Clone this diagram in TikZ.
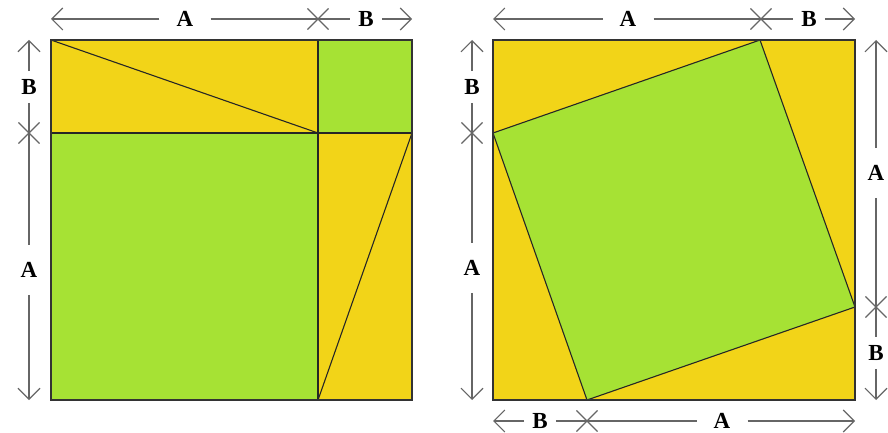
\documentclass[tikz,border=0pt]{standalone}
\usepackage{fontspec}
\setmainfont{Liberation Serif}
\usetikzlibrary{arrows.meta,shapes.misc}
\definecolor{sunyellow}{RGB}{242,212,24}
\definecolor{leafgreen}{RGB}{166,226,52}
\tikzset{
  dim/.style={draw=black!60, line width=1.1pt},
  dimtip/.style={-{Straight Barb[length=11pt,width=22pt,line width=1.1pt]}},
  lab/.style={font=\fontsize{23}{27}\selectfont\bfseries, inner sep=8pt},
  longlab/.style={lab, inner sep=17pt},
  cutmark/.style={
    cross out,
    draw=black!60,
    line width=1.1pt,
    minimum size=20pt,
    inner sep=0pt,
  },
  seam/.style={draw=black!85, line width=1.1pt},
  frame/.style={draw=black!80, line width=1.6pt},
}

\begin{document}
\begin{tikzpicture}[x=1pt, y=1pt]
  \useasboundingbox (0, 0) rectangle (888, 432);

  % left square: A^2 + B^2 + two rectangles
  \fill[leafgreen] (51, 32) rectangle (318, 299);
  \fill[leafgreen] (318, 299) rectangle (412, 392);
  \fill[sunyellow] (51, 299) rectangle (318, 392);
  \fill[sunyellow] (318, 32) rectangle (412, 299);
  \draw[seam] (51, 392) -- (318, 299);
  \draw[seam] (318, 32) -- (412, 299);
  \draw[seam] (318, 32) -- (318, 392);
  \draw[seam] (51, 299) -- (412, 299);
  \draw[frame] (51, 32) rectangle (412, 392);

  % right square: C^2 + four triangles
  \fill[sunyellow] (493, 32) rectangle (855, 392);
  \filldraw[seam, fill=leafgreen] (760, 392) -- (855, 125) -- (587, 32) -- (493, 299) -- cycle;
  \draw[frame] (493, 32) rectangle (855, 392);

  % ends of the dimension lines
  \coordinate (lt-w) at (51, 413);
  \coordinate (lt-e) at (412, 413);
  \coordinate (ll-n) at (29, 392);
  \coordinate (ll-s) at (29, 32);
  \coordinate (rt-w) at (493, 413);
  \coordinate (rt-e) at (855, 413);
  \coordinate (rl-n) at (472, 392);
  \coordinate (rl-s) at (472, 32);
  \coordinate (rr-n) at (876, 392);
  \coordinate (rr-s) at (876, 32);
  \coordinate (rb-w) at (493, 11);
  \coordinate (rb-e) at (855, 11);

  \foreach \name/\px/\py in {
    lt-x/318/413,
    ll-x/29/299,
    rt-x/761/413,
    rl-x/472/299,
    rr-x/876/125,
    rb-x/587/11
  }
    \node[cutmark] (\name) at (\px, \py) {};

  \node[longlab] (lt-a) at (185, 413) {A};
  \node[lab] (lt-b) at (366, 413) {B};
  \node[lab] (ll-b) at (29, 345) {B};
  \node[longlab] (ll-a) at (29, 162) {A};
  \node[longlab] (rt-a) at (628, 413) {A};
  \node[lab] (rt-b) at (809, 413) {B};
  \node[lab] (rl-b) at (472, 345) {B};
  \node[longlab] (rl-a) at (472, 164) {A};
  \node[longlab] (rr-a) at (876, 259) {A};
  \node[lab] (rr-b) at (876, 79) {B};
  \node[lab] (rb-b) at (540, 11) {B};
  \node[longlab] (rb-a) at (722, 11) {A};

  \draw[dim, dimtip] (lt-a) -- (lt-w);
  \draw[dim] (lt-a) -- (lt-b);
  \draw[dim, dimtip] (lt-b) -- (lt-e);

  \draw[dim, dimtip] (ll-b) -- (ll-n);
  \draw[dim] (ll-b) -- (ll-a);
  \draw[dim, dimtip] (ll-a) -- (ll-s);

  \draw[dim, dimtip] (rt-a) -- (rt-w);
  \draw[dim] (rt-a) -- (rt-b);
  \draw[dim, dimtip] (rt-b) -- (rt-e);

  \draw[dim, dimtip] (rl-b) -- (rl-n);
  \draw[dim] (rl-b) -- (rl-a);
  \draw[dim, dimtip] (rl-a) -- (rl-s);

  \draw[dim, dimtip] (rr-a) -- (rr-n);
  \draw[dim] (rr-a) -- (rr-b);
  \draw[dim, dimtip] (rr-b) -- (rr-s);

  \draw[dim, dimtip] (rb-b) -- (rb-w);
  \draw[dim] (rb-b) -- (rb-a);
  \draw[dim, dimtip] (rb-a) -- (rb-e);

\end{tikzpicture}
\end{document}
